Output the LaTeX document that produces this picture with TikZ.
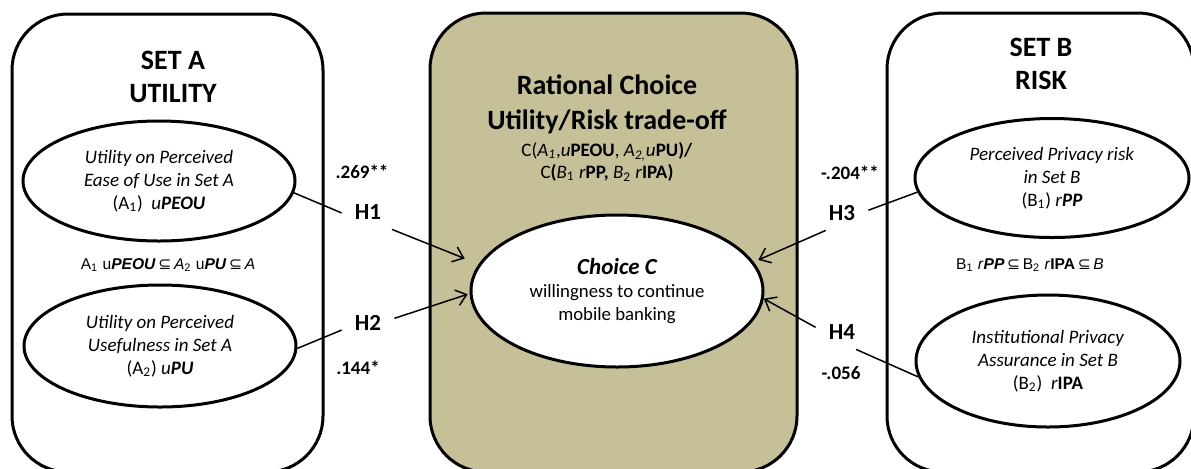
\documentclass[tikz,border=0pt]{standalone}
\usepackage{fontspec}
\setmainfont{Carlito}
\newfontfamily\arialfont{Liberation Sans}
\newfontfamily\symbfont{DejaVu Sans}
\usetikzlibrary{shapes.geometric, arrows.meta}
\definecolor{khaki}{RGB}{197,192,151}
\newcommand{\subs}{\,{\symbfont\char"2286}\,}
\begin{document}
\begin{tikzpicture}[x=0.5pt, y=-0.5pt, >={Straight Barb[length=5pt, width=8pt]},
    setbox/.style={line width=1.5pt, rounded corners=28pt},
    construct/.style={ellipse, draw, line width=1.5pt, fill=white, inner sep=0pt,
        align=center, font=\fontsize{9.5}{11.5}\selectfont},
    settitle/.style={align=center, font=\bfseries\fontsize{14}{16.5}\selectfont},
    formula/.style={font=\arialfont\fontsize{7.8}{10}\selectfont},
    hyp/.style={minimum width=26pt, minimum height=17pt, inner sep=0pt,
        font=\bfseries\fontsize{11.5}{13}\selectfont},
    coef/.style={font=\bfseries\fontsize{9.5}{11}\selectfont},
    link/.style={line width=0.75pt}]
    \useasboundingbox (0,0) rectangle (1191,468);
    \clip (0,0) rectangle (1191,468);

    % the three sets
    \draw[setbox] (12,14) rectangle (323,472);
    \draw[setbox, fill=khaki] (430,13) rectangle (797,472);
    \draw[setbox] (887,13) rectangle (1194,472);

    % set A
    \node[settitle] (ta) at (173,77) {SET A\\UTILITY};
    \node[construct, minimum width=136pt, minimum height=60pt] (a1) at (159,181)
        {\textit{Utility on Perceived}\\\textit{Ease of Use in Set A}\\(A\textsubscript{1})\ \ \textit{u\textbf{PEOU}}};
    \node[formula] (fa) at (168,265)
        {A\textsubscript{1} u\textbf{\textit{PEOU}}\subs\textit{A}\textsubscript{2} u\textbf{\textit{PU}}\subs\textit{A}};
    \node[construct, minimum width=136pt, minimum height=61pt] (a2) at (160,346)
        {\textit{Utility on Perceived}\\\textit{Usefulness in Set A}\\(A\textsubscript{2}) \textit{u\textbf{PU}}};

    % rational choice
    \node[settitle, font=\bfseries\fontsize{14}{17.5}\selectfont] (rc) at (607,104)
        {Rational Choice\\Utility/Risk trade-off};
    \node[align=center, font=\fontsize{9.5}{11}\selectfont] (cf) at (607,162)
        {C(\textit{A\textsubscript{1}},\textit{u}\textbf{PEOU}, \textit{A\textsubscript{2,}}\textit{u}\textbf{PU)/}\\
         C\textbf{(}\textit{B}\textsubscript{1} \textit{r}\textbf{PP, }\textit{B}\textsubscript{2} \textit{r}\textbf{IPA)}};
    \node[construct, minimum width=146pt, minimum height=76pt, font=\fontsize{9.4}{11.5}\selectfont] (choice) at (617,291)
        {{\bfseries\itshape\fontsize{11.5}{13}\selectfont Choice C}\\willingness to continue\\mobile banking};

    % set B
    \node[settitle] (tb) at (1041,64) {SET B\\RISK};
    \node[construct, minimum width=137pt, minimum height=59.5pt] (b1) at (1052,178)
        {\textit{Perceived Privacy risk}\\\textit{in Set B}\\(B\textsubscript{1}) \textit{r}\textbf{\textit{PP}}};
    \node[formula] (fb) at (1030,265)
        {B\textsubscript{1} \textit{r}\textbf{\textit{PP}}\subs B\textsubscript{2} \textit{r}\textbf{IPA}\subs\textit{B}};
    \node[construct, minimum width=132pt, minimum height=66pt] (b2) at (1048,361)
        {\textit{Institutional Privacy}\\\textit{Assurance in Set B}\\(B\textsubscript{2})\ \ \textit{r}\textbf{IPA}};

    % hypotheses
    \node[hyp] (h1) at (368,212) {H1};
    \node[hyp] (h2) at (368,323) {H2};
    \node[hyp] (h3) at (842,213) {H3};
    \node[hyp] (h4) at (842,332) {H4};
    \node[coef] (c1) at (362,172) {.269**};
    \node[coef] (c2) at (358,368) {.144*};
    \node[coef] (c3) at (850,173) {-.204**};
    \node[coef] (c4) at (841,373) {-.056};

    \draw[link] (a1.-5) -- (h1.182);
    \draw[link, ->, shorten >=7.5pt] (h1.-36) -- (choice.169);
    \draw[link] (a2.-1) -- (h2.195);
    \draw[link, ->, shorten >=1pt] (h2.10) -- (choice.181);
    \draw[link] (b1.186) -- (h3.6);
    \draw[link, ->, shorten >=2.5pt] (h3.227) -- (choice.12);
    \draw[link] (b2.187) -- (h4.-51);
    \draw[link, ->] (h4.170) -- (choice.-3);
\end{tikzpicture}
\end{document}
